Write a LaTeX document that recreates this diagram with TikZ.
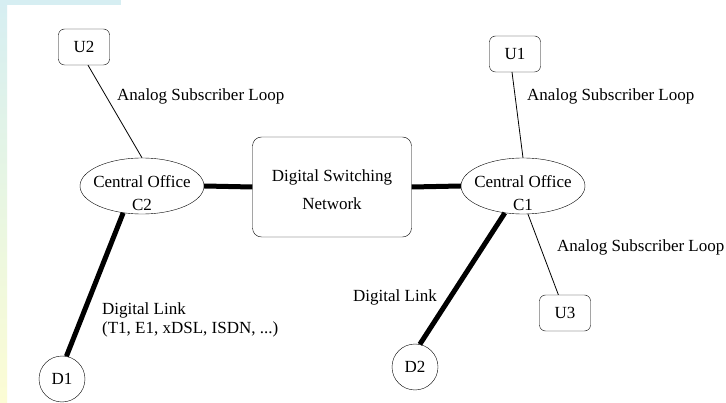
\documentclass[tikz,border=0pt]{standalone}
\usepackage{fontspec}
\setmainfont{Liberation Serif}
\definecolor{stripblue}{HTML}{D6EEF2}
\definecolor{stripyellow}{HTML}{FCFCD4}
\definecolor{stripgreen}{HTML}{E8F6E2}
\newcommand{\twolines}[4]{\makebox[0pt]{\raisebox{-#1}[0pt][0pt]{\begin{tabular}[b]{@{}c@{}}#2\\[#3]#4\end{tabular}}}}
\tikzset{
  user/.style={draw,rounded corners=6pt,minimum width=51pt,minimum height=36pt,inner sep=0pt},
  office/.style={draw,ellipse,minimum width=124pt,minimum height=56pt,inner sep=0pt},
  switchbox/.style={draw,rounded corners=9pt,minimum width=159pt,minimum height=100pt,inner sep=0pt},
  digi/.style={draw,circle,minimum size=46pt,inner sep=0pt},
  loop/.style={line width=0.8pt},
  trunk/.style={line width=5pt},
  lbl/.style={anchor=west,inner sep=0pt,align=left}
}
\usetikzlibrary{shapes.geometric}
\begin{document}
\begin{tikzpicture}[x=1pt,y=-1pt,font=\fontsize{17}{21}\selectfont]
    \useasboundingbox (0,0) rectangle (726,403);
    \fill[white] (0,0) rectangle (726,403);
    % left border strip
    \shade[top color=stripblue,bottom color=stripyellow,middle color=stripgreen] (0,0) rectangle (7,403);
    \fill[stripblue] (0,0) rectangle (121,5);
    % nodes
    \node[user] (u2) at (84,47) {U2};
    \node[user] (u1) at (515,54) {U1};
    \node[user] (u3) at (565,313) {U3};
    \node[office] (c2) at (142,186) {\twolines{25pt}{Central Office}{2pt}{C2}};
    \node[office] (c1) at (523,186) {\twolines{25pt}{Central Office}{2pt}{C1}};
    \node[switchbox] (dsn) at (332,187) {\twolines{22.5pt}{Digital Switching}{7pt}{Network}};
    \node[digi] (d1) at (62,379) {D1};
    \node[digi] (d2) at (415,367) {D2};
    % links
    \draw[loop] (u2.south) ++(4,0) coordinate (u2s) -- (c2.north);
    \draw[loop] (u1) ++(-3,18) coordinate (u1s) -- (c1.north);
    \draw[loop] (c1.-80) -- (u3.110);
    \draw[trunk] (c2.east) -- (dsn.west);
    \draw[trunk] (dsn.east) -- (c1.west);
    \draw[trunk] (c2.-125) -- (d1.79);
    \draw[trunk] (c1.-124) -- (d2.78);
    % labels
    \node[lbl] (l1) at (117,96) {Analog Subscriber Loop};
    \node[lbl] (l2) at (527,96) {Analog Subscriber Loop};
    \node[lbl] (l3) at (557,247) {Analog Subscriber Loop};
    \node[lbl] (l4) at (353,297) {Digital Link};
    \node[lbl,anchor=north west] (l5) at (102,303) {Digital Link\\[-2pt](T1, E1, xDSL, ISDN, ...)};
\end{tikzpicture}
\end{document}
